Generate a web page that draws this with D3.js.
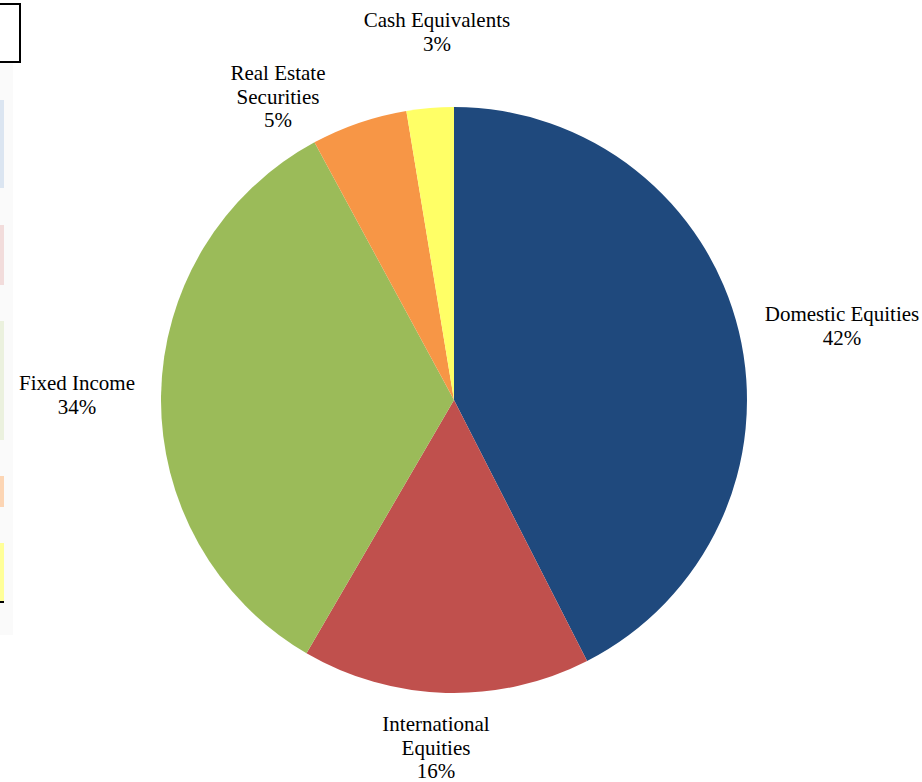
<!DOCTYPE html>
<html><head><meta charset="utf-8">
<script src="https://cdn.jsdelivr.net/npm/d3@7"></script>
<style>html,body{margin:0;padding:0;background:#fff;}svg{display:block;}</style>
</head><body>
<svg id="chart" width="922" height="782"></svg>
<script>
const categories = ["Domestic Equities", "International Equities", "Fixed Income", "Real Estate Securities", "Cash Equivalents"];
const values = [42.49, 15.9, 33.7, 5.3, 2.6];
const labelLines = [["Domestic Equities"], ["International", "Equities"], ["Fixed Income"], ["Real Estate", "Securities"], ["Cash Equivalents"]];
const colors = ["#1F497D", "#C0504D", "#9BBB59", "#F79646", "#FFFF66"];
const legendColors = ["#DBE5F1", "#F2DCDB", "#EBF1DE", "#FCD5B4", "#FFFF99"];

const svg = d3.select("#chart");
const cx = 454, cy = 400, R = 293;

// faint clipped legend remnant on the left edge
const leg = svg.append("g");
leg.append("rect").attr("x", 0).attr("y", 63).attr("width", 13).attr("height", 572).attr("fill", "#FAFAFA");
leg.append("rect").attr("x", -10).attr("y", 4).attr("width", 30).attr("height", 58)
  .attr("fill", "#FFFFFF").attr("stroke", "#000").attr("stroke-width", 2);
const legY = d3.scaleOrdinal().domain(categories).range([[100, 88], [225, 60], [321, 119], [476, 31], [543, 58]]);
leg.selectAll("rect.sw").data(categories).join("rect").attr("class", "sw")
  .attr("x", 0).attr("width", 4)
  .attr("y", d => legY(d)[0]).attr("height", d => legY(d)[1])
  .attr("fill", (d, i) => legendColors[i]);
leg.append("rect").attr("x", 0).attr("y", 601).attr("width", 4).attr("height", 2).attr("fill", "#000");

// pie
const pie = d3.pie().sort(null).value(d => d.v);
const data = categories.map((c, i) => ({ c, v: values[i], i }));
const arcs = pie(data);
const arc = d3.arc().innerRadius(0).outerRadius(R);
const g = svg.append("g").attr("transform", `translate(${cx},${cy})`);
g.selectAll("path").data(arcs).join("path")
  .attr("d", arc)
  .attr("fill", d => colors[d.data.i]);

// labels
const total = d3.sum(values);
const fmt = v => Math.round(v / total * 100) + "%";
const labelAt = {
  "Domestic Equities": [842, 321],
  "International Equities": [436, 731],
  "Fixed Income": [77, 390],
  "Real Estate Securities": [278, 80],
  "Cash Equivalents": [437, 27]
};
const lh = 23.5;
arcs.forEach(a => {
  const lines = labelLines[a.data.i].concat([fmt(a.data.v)]);
  const p = labelAt[a.data.c];
  const t = svg.append("text")
    .attr("font-family", "'Liberation Serif', 'Times New Roman', serif")
    .attr("font-size", 21).attr("fill", "#000").attr("text-anchor", "middle");
  lines.forEach((ln, k) => {
    t.append("tspan").attr("x", p[0]).attr("y", p[1] + k * lh).text(ln);
  });
});
</script>
</body></html>
